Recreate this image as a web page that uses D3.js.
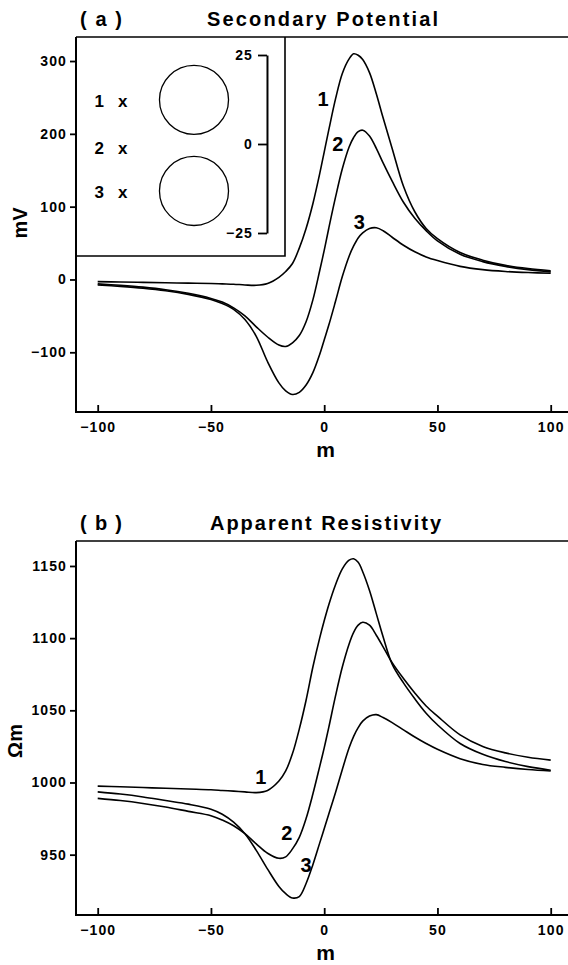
<!DOCTYPE html>
<html>
<head>
<meta charset="utf-8">
<script src="https://cdn.jsdelivr.net/npm/d3@7"></script>
<style>
  body { margin: 0; background: #fff; }
  svg { display: block; font-family: "Liberation Sans", Arial, sans-serif; }
</style>
</head>
<body>
<div id="chart"></div>
<script>
// distance along the profile (m), shared by every curve
const distance = [-100, -90, -80, -70, -60, -50, -45, -40, -35, -30, -25, -20, -17, -14, -11, -8, -5, -2, 0, 2, 5, 8, 11, 13, 15, 17, 20, 23, 26, 30, 35, 40, 45, 50, 60, 70, 80, 90, 100];

// (a) secondary potential, mV
const potential1 = [-3, -3.5, -4, -4.5, -5, -5.5, -6, -6.5, -7.5, -8, -5.5, 3, 11, 22, 43, 70, 104, 145, 175, 205, 248, 283, 303, 310, 308, 302, 284, 255, 222, 180, 128, 93, 70, 56, 37, 26.5, 19.5, 15, 12];
const potential2 = [-6, -8, -10.5, -14, -19, -26, -31, -39, -50, -65, -79, -90, -92, -87, -77, -58, -28, 12, 40, 70, 113, 152, 182, 195, 203, 205, 197, 180, 160, 135, 106, 84, 67, 53, 34.5, 24.5, 18, 13.5, 10.5];
const potential3 = [-7.5, -9.5, -12, -15.5, -20.5, -27.5, -33, -41, -55, -78, -113, -142, -153, -158, -155, -145, -128, -103, -83, -63, -30, 4, 32, 46, 57, 64, 70, 71, 67, 58, 47, 38, 31, 26, 18, 13.5, 11, 9.5, 8.5];

// (b) apparent resistivity, ohm m
const resistivity1 = [997.5, 997, 996.5, 996, 995.5, 995, 994.5, 994, 993.5, 993, 994.5, 1001, 1008, 1020, 1037, 1057, 1080, 1100, 1112, 1123, 1137, 1148, 1154, 1155, 1152.5, 1146, 1133, 1117, 1101, 1082, 1069, 1058, 1048, 1040, 1027, 1019.5, 1014.5, 1011, 1008.5];
const resistivity2 = [989, 987.5, 985.5, 983, 980, 977, 974, 970, 964.5, 957.5, 951, 947.5, 948.5, 954, 962, 975, 992, 1011, 1024, 1038, 1060, 1080, 1096, 1104, 1109, 1111, 1109, 1102, 1094, 1083, 1072, 1062, 1053, 1046, 1033, 1025, 1020.5, 1017.5, 1015.5];
const resistivity3 = [993.5, 992, 990, 987.5, 985, 981.5, 978, 972.5, 964.5, 953, 940, 928, 923, 920, 921, 930, 943, 958, 968, 978, 993, 1009, 1024, 1032, 1038, 1042.5, 1046, 1047, 1045, 1041.5, 1036.5, 1031.5, 1027, 1023, 1016.5, 1012.5, 1010.5, 1009, 1008];

const distanceTicks = [-100, -50, 0, 50, 100];
const potentialTicks = [-100, 0, 100, 200, 300];
const resistivityTicks = [950, 1000, 1050, 1100, 1150];

// curve labels: [distance, value]
const curveNames = ["1", "2", "3"];
const potentialLabelAt = [[-0.5, 248], [6, 186], [15.5, 79]];
const resistivityLabelAt = [[-28, 1004], [-16.5, 965], [-8, 943]];

// inset: cross-section with profile lines and two spheres
const insetTicks = [-25, 0, 25];
const profileLevels = [12, -1, -13.5];
const sphereCentres = [12.4, -13.2];
const sphereRadius = 9.7;

const width = 568;
const height = 965;
const axisX = 76;

const svg = d3.select("#chart")
  .append("svg")
  .attr("width", width)
  .attr("height", height);

const x = d3.scaleLinear().domain([-100, 100]).range([97.7, 550.7]);

function styleTicks(a) {
  a.attr("font-family", null).attr("font-size", null);
  a.selectAll(".tick line").attr("stroke-width", 1.8);
  a.selectAll("text")
    .attr("font-size", 14)
    .attr("font-weight", "bold")
    .attr("letter-spacing", 1.1);
}

function drawPanel(p) {
  const y = d3.scaleLinear().domain(p.yDomain).range([p.bottom, p.top]);
  const g = svg.append("g");

  // frame: top line, left axis line, bottom axis line
  g.append("line")
    .attr("x1", axisX).attr("x2", width)
    .attr("y1", p.top).attr("y2", p.top)
    .attr("stroke", "#000").attr("stroke-width", 1.6);
  g.append("line")
    .attr("x1", axisX).attr("x2", axisX)
    .attr("y1", p.top).attr("y2", p.bottom + 1)
    .attr("stroke", "#000").attr("stroke-width", 2);
  g.append("line")
    .attr("x1", axisX - 1).attr("x2", width)
    .attr("y1", p.bottom).attr("y2", p.bottom)
    .attr("stroke", "#000").attr("stroke-width", 2);

  const xAxis = g.append("g")
    .attr("transform", `translate(0,${p.bottom})`)
    .call(d3.axisBottom(x).tickValues(distanceTicks).tickFormat(d3.format("d"))
      .tickSize(-7).tickPadding(10));
  const yAxis = g.append("g")
    .attr("transform", `translate(${axisX},0)`)
    .call(d3.axisLeft(y).tickValues(p.ticks).tickFormat(d3.format("d"))
      .tickSize(6).tickPadding(3));

  [xAxis, yAxis].forEach((a) => {
    a.select(".domain").remove();
    styleTicks(a);
  });

  const line = d3.line()
    .x((d, i) => x(distance[i]))
    .y((d) => y(d))
    .curve(d3.curveCatmullRom.alpha(0.5));

  g.selectAll("path.curve")
    .data(p.series)
    .enter()
    .append("path")
    .attr("class", "curve")
    .attr("d", line)
    .attr("fill", "none")
    .attr("stroke", "#000")
    .attr("stroke-width", 1.6);

  g.selectAll("text.name")
    .data(p.labelAt)
    .enter()
    .append("text")
    .attr("class", "name")
    .attr("x", (d) => x(d[0]))
    .attr("y", (d) => y(d[1]) + 7)
    .attr("text-anchor", "middle")
    .attr("font-size", 20)
    .attr("font-weight", "bold")
    .text((d, i) => curveNames[i]);

  // panel tag and title
  g.append("text")
    .attr("x", 80).attr("y", p.top - 11)
    .attr("font-size", 20).attr("font-weight", "bold")
    .attr("textLength", 42).attr("lengthAdjust", "spacing")
    .text(p.tag);
  g.append("text")
    .attr("x", p.titleX).attr("y", p.top - 11)
    .attr("font-size", 20).attr("font-weight", "bold")
    .attr("textLength", 231).attr("lengthAdjust", "spacing")
    .text(p.title);

  // axis titles
  g.append("text")
    .attr("transform", `translate(${p.unitX},${p.unitY}) rotate(-90)`)
    .attr("text-anchor", "middle")
    .attr("dy", "0.36em")
    .attr("font-size", 20).attr("font-weight", "bold")
    .text(p.unit);
  g.append("text")
    .attr("x", 325.5).attr("y", p.bottom + 45)
    .attr("text-anchor", "middle")
    .attr("font-size", 21).attr("font-weight", "bold")
    .text("m");

  return g;
}

const panelA = drawPanel({
  top: 37, bottom: 412, yDomain: [-182, 333], ticks: potentialTicks,
  series: [potential1, potential2, potential3], labelAt: potentialLabelAt,
  tag: "(a)", title: "Secondary Potential", titleX: 207,
  unit: "mV", unitX: 20, unitY: 223
});

drawPanel({
  top: 541, bottom: 915, yDomain: [908.2, 1167.3], ticks: resistivityTicks,
  series: [resistivity1, resistivity2, resistivity3], labelAt: resistivityLabelAt,
  tag: "(b)", title: "Apparent Resistivity", titleX: 210,
  unit: "Ωm", unitX: 15, unitY: 741
});

// inset in panel (a)
const inset = panelA.append("g");
const yIn = d3.scaleLinear().domain([-25, 25]).range([233, 55]);
const xIn = d3.scaleLinear().domain([-25, 25]).range([105, 283]);

inset.append("rect")
  .attr("x", axisX + 1).attr("y", 38)
  .attr("width", 285 - axisX - 1).attr("height", 256 - 38)
  .attr("fill", "#fff");
inset.append("path")
  .attr("d", `M285,37V256H${axisX}`)
  .attr("fill", "none").attr("stroke", "#000").attr("stroke-width", 1.6);

const insetAxis = inset.append("g")
  .attr("transform", `translate(${xIn(20.5)},0)`)
  .call(d3.axisLeft(yIn).tickValues(insetTicks).tickSize(9).tickSizeOuter(0).tickPadding(5));
insetAxis.select(".domain").attr("stroke-width", 2);
styleTicks(insetAxis);

inset.selectAll("circle")
  .data(sphereCentres)
  .enter()
  .append("circle")
  .attr("cx", xIn(0))
  .attr("cy", (d) => yIn(d))
  .attr("r", yIn(0) - yIn(sphereRadius))
  .attr("fill", "none")
  .attr("stroke", "#000")
  .attr("stroke-width", 1.3);

const profiles = inset.selectAll("g.profile")
  .data(profileLevels)
  .enter()
  .append("g")
  .attr("class", "profile")
  .attr("font-size", 17)
  .attr("font-weight", "bold");
profiles.append("text")
  .attr("x", xIn(-26.6)).attr("y", (d) => yIn(d) + 6)
  .attr("text-anchor", "middle")
  .text((d, i) => curveNames[i]);
profiles.append("text")
  .attr("x", xIn(-20)).attr("y", (d) => yIn(d) + 6)
  .attr("text-anchor", "middle")
  .text("x");
</script>
</body>
</html>
